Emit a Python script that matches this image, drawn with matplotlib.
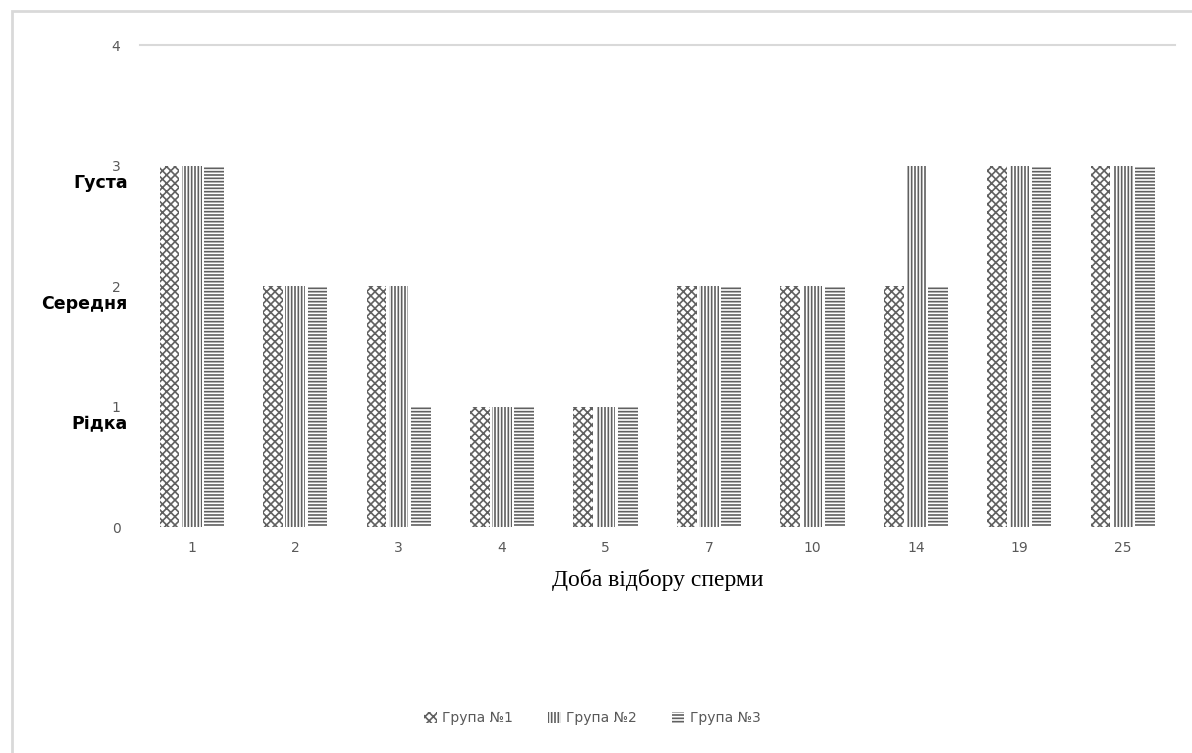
import numpy as np
import matplotlib.pyplot as plt
from matplotlib.patches import Rectangle

# days of sampling and consistency score per group
days = ['1', '2', '3', '4', '5', '7', '10', '14', '19', '25']
group1 = [3, 2, 2, 1, 1, 2, 2, 2, 3, 3]
group2 = [3, 2, 2, 1, 1, 2, 2, 3, 3, 3]
group3 = [3, 2, 1, 1, 1, 2, 2, 2, 3, 3]
series_names = ['Група №1', 'Група №2', 'Група №3']
level_labels = ['Рідка', 'Середня', 'Густа']

plt.rcParams['hatch.color'] = '#606060'
plt.rcParams['hatch.linewidth'] = 1.2

fig = plt.figure(figsize=(11.92, 7.53), dpi=100)
ax = fig.add_axes([0.1174, 0.300, 0.868, 0.640])

# outer chart border
fig.patches.append(Rectangle((0.010, -0.01), 1.0, 0.995, transform=fig.transFigure,
                             fill=False, edgecolor='#d9d9d9', linewidth=2))

x = np.arange(len(days))
w = 0.19
offs = [-0.215, 0.0, 0.215]
hatches = ['xxxx', '|||||', '-----']
for vals, off, h, name in zip([group1, group2, group3], offs, hatches, series_names):
    ax.bar(x + off, vals, width=w, color='white', edgecolor='#606060',
           linewidth=0, hatch=h, label=name)

ax.set_xlim(-0.5, len(days) - 0.5)
ax.set_ylim(0, 4)
ax.axhline(4, color='#d9d9d9', linewidth=1.5, clip_on=False)
for s in ax.spines.values():
    s.set_visible(False)

ax.set_yticks([0, 1, 2, 3, 4])
ax.tick_params(axis='y', length=0, pad=14, labelsize=10, labelcolor='#595959')
ax.set_xticks(x)
ax.set_xticklabels(days)
ax.tick_params(axis='x', length=0, pad=10, labelsize=10, labelcolor='#595959')

for i, lab in enumerate(level_labels):
    ax.text(-0.012, i + 1 - 0.145, lab, ha='right', va='center', fontsize=12.5,
            fontweight='bold', color='black', transform=ax.get_yaxis_transform())

ax.set_xlabel('Доба відбору сперми', family='Liberation Serif', fontsize=17,
              labelpad=10)

fig.legend(loc='center', bbox_to_anchor=(0.497, 0.046), ncol=3, frameon=False,
           fontsize=10, labelcolor='#595959', handlelength=0.9, handleheight=0.9,
           columnspacing=2.5, handletextpad=0.4)

fig.savefig('out.png', dpi=100)
